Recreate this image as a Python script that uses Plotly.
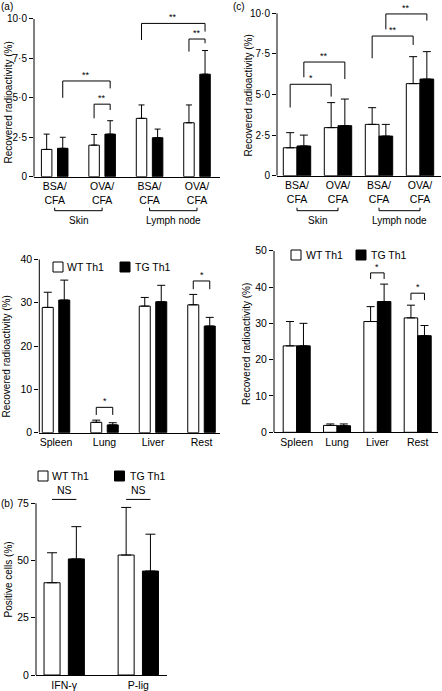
import plotly.graph_objects as go

W, H = 442, 691
FONT = "Liberation Sans, Arial, Helvetica, sans-serif"

# ---------------- data ----------------
# Panel (a)
a_labels = ["BSA/<br>CFA", "OVA/<br>CFA", "BSA/<br>CFA", "OVA/<br>CFA"]
a_wt = [1.73, 2.0, 3.7, 3.42]
a_wt_sd = [0.97, 0.68, 0.85, 1.13]
a_tg = [1.8, 2.7, 2.47, 6.5]
a_tg_sd = [0.7, 0.85, 0.55, 1.5]
# (left group, left series, right group, right series, top, left end, right end, label)
a_sig = [(0, 1, 1, 1, 6.07, 5.0, 5.6, "**"),
         (1, 0, 1, 1, 4.6, 3.7, 4.23, "**"),
         (2, 0, 3, 1, 9.72, 8.67, 9.2, "**"),
         (3, 0, 3, 1, 8.73, 7.93, 8.46, "**")]
a_ticks = [0, 2.5, 5, 7.5, 10]
a_ticktext = ["0", "2·5", "5·0", "7·5", "10·0"]

# Panel (c)
c_labels = ["BSA/<br>CFA", "OVA/<br>CFA", "BSA/<br>CFA", "OVA/<br>CFA"]
c_wt = [1.72, 2.96, 3.16, 5.67]
c_wt_sd = [0.93, 1.54, 1.03, 1.66]
c_tg = [1.83, 3.08, 2.44, 5.95]
c_tg_sd = [0.67, 1.64, 0.72, 1.69]
c_sig = [(0, 0, 1, 0, 5.63, 4.2, 4.87, "*"),
         (0, 1, 1, 1, 7.0, 6.06, 5.95, "**"),
         (2, 0, 3, 0, 8.6, 7.23, 8.05, "**"),
         (2, 1, 3, 1, 9.96, 9.01, 9.55, "**")]
c_ticks = [0, 2.5, 5, 7.5, 10]
c_ticktext = ["0", "2·5", "5·0", "7·5", "10·0"]

site_labels = ["Skin", "Lymph node"]
site_groups = [(0, 1), (2, 3)]

# Middle left
d_labels = ["Spleen", "Lung", "Liver", "Rest"]
d_wt = [28.9, 2.4, 29.2, 29.5]
d_wt_sd = [3.5, 0.5, 2.0, 2.4]
d_tg = [30.6, 1.8, 30.2, 24.6]
d_tg_sd = [4.6, 0.5, 3.8, 2.0]
d_sig = [(1, 0, 1, 1, 5.85, 4.1, 4.1, "*"),
         (3, 0, 3, 1, 35.0, 33.1, 33.1, "*")]
d_ticks = [0, 10, 20, 30, 40]

# Middle right
e_labels = ["Spleen", "Lung", "Liver", "Rest"]
e_wt = [23.8, 1.9, 30.5, 31.5]
e_wt_sd = [6.7, 0.4, 4.1, 3.5]
e_tg = [23.8, 1.8, 36.0, 26.6]
e_tg_sd = [6.2, 0.5, 4.8, 2.8]
e_sig = [(2, 0, 2, 1, 43.9, 42.2, 42.2, "*"),
         (3, 0, 3, 1, 38.3, 36.4, 36.4, "*")]
e_ticks = [0, 10, 20, 30, 40, 50]

# Panel (b)
b_labels = ["IFN-γ", "P-lig"]
b_wt = [40.3, 52.4]
b_wt_sd = [13.1, 20.8]
b_tg = [50.7, 45.4]
b_tg_sd = [14.1, 16.1]
b_sig = [(0, 0, 0, 1, 76.7, 76.7, 76.7, "NS"),
         (1, 0, 1, 1, 76.7, 76.7, 76.7, "NS")]
b_ticks = [0, 25, 50, 75]

series_names = ["WT Th1", "TG Th1"]
series_fill = ["white", "black"]


# ---------------- helpers (pixel layout -> paper) ----------------
def px_x(px):
    return px / W


def px_y(py):
    return 1 - py / H


fig = go.Figure()
shapes = []
annotations = []


def add_panel(idx, labels, wt, wt_sd, tg, tg_sd, sig, tickvals, ticktext,
              xl, xr, c0, cl, y0px, ytpx, ytval, rtop, bw, gap, capw,
              tickfont, catfont, sigfont):
    sx = "" if idx == 1 else str(idx)
    xa, ya = "x" + sx, "y" + sx
    n = len(labels)
    spacing = (cl - c0) / (n - 1)
    xrange = [(xl - c0) / spacing, (xr - c0) / spacing]
    ppu = (y0px - ytpx) / ytval
    top_px = y0px - rtop * ppu
    offsets = [-(bw + gap / 2), gap / 2]
    xs = list(range(n))
    for s, (vals, sd) in enumerate([(wt, wt_sd), (tg, tg_sd)]):
        fig.add_trace(go.Bar(
            x=xs, y=vals, width=bw, offset=offsets[s],
            name=series_names[s], showlegend=False,
            marker=dict(color=series_fill[s], line=dict(color="black", width=1)),
            error_y=dict(type="data", symmetric=False, array=sd,
                         arrayminus=[0] * n, color="black",
                         thickness=1, width=capw),
            xaxis=xa, yaxis=ya, hoverinfo="skip"))
    fig.layout["xaxis" + sx] = dict(
        domain=[px_x(xl), px_x(xr)], range=xrange, anchor=ya,
        showline=True, linecolor="black", linewidth=1, ticks="",
        tickvals=xs, ticktext=labels, showgrid=False, zeroline=False,
        tickfont=dict(size=catfont, color="black", family=FONT))
    fig.layout["yaxis" + sx] = dict(
        domain=[px_y(y0px), px_y(top_px)], range=[0, rtop], anchor=xa,
        showline=False, ticks="outside", ticklen=4, tickwidth=1,
        tickcolor="black", tickvals=tickvals,
        ticktext=ticktext if ticktext else [str(t) for t in tickvals],
        showgrid=False, zeroline=False,
        tickfont=dict(size=tickfont, color="black", family=FONT))
    # y axis line up to top tick
    shapes.append(dict(type="line", xref=xa + " domain", yref=ya,
                       x0=0, x1=0, y0=0, y1=max(tickvals),
                       line=dict(color="black", width=1)))
    # significance brackets
    for (g1, s1, g2, s2, t, e1, e2, lab) in sig:
        x1 = g1 + offsets[s1] + bw / 2
        x2 = g2 + offsets[s2] + bw / 2
        shapes.append(dict(type="path", xref=xa, yref=ya,
                           path=f"M {x1},{e1} L {x1},{t} L {x2},{t} L {x2},{e2}",
                           line=dict(color="black", width=1)))
        annotations.append(dict(x=(x1 + x2) / 2, y=t, xref=xa, yref=ya,
                                text=lab, showarrow=False, yanchor="bottom",
                                xanchor="center", yshift=-1 if lab != "NS" else 1,
                                font=dict(size=sigfont if lab != "NS" else 10.5,
                                          color="black", family=FONT)))
    return xa


def text(px, py, s, size=10, angle=0, xanchor="center"):
    annotations.append(dict(x=px_x(px), y=px_y(py), xref="paper", yref="paper",
                            text=s, showarrow=False, textangle=angle,
                            xanchor=xanchor, yanchor="middle",
                            font=dict(size=size, color="black", family=FONT)))


def legend(py, xs_sq, xs_txt, size=10, sq=10):
    for s in range(2):
        shapes.append(dict(type="rect", xref="paper", yref="paper",
                           x0=px_x(xs_sq[s]), x1=px_x(xs_sq[s] + sq),
                           y0=px_y(py + sq / 2), y1=px_y(py - sq / 2),
                           fillcolor=series_fill[s],
                           line=dict(color="black", width=1)))
        text(xs_txt[s], py, series_names[s], size=size, xanchor="left")


def site_brackets(xa, ypx, uppx, lab_py):
    for (g1, g2), lab in zip(site_groups, site_labels):
        shapes.append(dict(type="path", xref=xa, yref="paper",
                           path=f"M {g1},{px_y(uppx)} L {g1},{px_y(ypx)} "
                                f"L {g2},{px_y(ypx)} L {g2},{px_y(uppx)}",
                           line=dict(color="black", width=1)))
        annotations.append(dict(x=(g1 + g2) / 2, y=px_y(lab_py), xref=xa,
                                yref="paper", text=lab, showarrow=False,
                                yanchor="middle", xanchor="center",
                                font=dict(size=10, color="black", family=FONT)))


# Panel (a)
xa_a = add_panel(1, a_labels, a_wt, a_wt_sd, a_tg, a_tg_sd, a_sig, a_ticks, a_ticktext,
                 xl=34, xr=220, c0=54.7, cl=197, y0px=176.7, ytpx=19, ytval=10,
                 rtop=10.3, bw=0.221, gap=0.118, capw=3,
                 tickfont=10, catfont=10.5, sigfont=9)
# Panel (c)
xa_c = add_panel(2, c_labels, c_wt, c_wt_sd, c_tg, c_tg_sd, c_sig, c_ticks, c_ticktext,
                 xl=277, xr=441, c0=297, cl=420, y0px=175.7, ytpx=13.3, ytval=10,
                 rtop=10.3, bw=0.334, gap=0.0, capw=4,
                 tickfont=10, catfont=10.5, sigfont=9)
# Middle left
add_panel(3, d_labels, d_wt, d_wt_sd, d_tg, d_tg_sd, d_sig, d_ticks, None,
          xl=39.3, xr=220, c0=56, cl=201.5, y0px=432.7, ytpx=259.3, ytval=40,
          rtop=40, bw=0.227, gap=0.113, capw=4,
          tickfont=10.5, catfont=10.5, sigfont=9)
# Middle right
add_panel(4, e_labels, e_wt, e_wt_sd, e_tg, e_tg_sd, e_sig, e_ticks, None,
          xl=274, xr=438, c0=296.7, cl=417.7, y0px=432.3, ytpx=250.7, ytval=50,
          rtop=50, bw=0.335, gap=0.0, capw=4,
          tickfont=10.5, catfont=10.5, sigfont=9)
# Panel (b)
add_panel(5, b_labels, b_wt, b_wt_sd, b_tg, b_tg_sd, b_sig, b_ticks, None,
          xl=36, xr=167, c0=64.2, cl=138.3, y0px=675, ytpx=503.3, ytval=75,
          rtop=78, bw=0.216, gap=0.112, capw=5,
          tickfont=10.5, catfont=10.5, sigfont=9)

site_brackets(xa_a, 210.7, 207.7, 220.5)
site_brackets(xa_c, 210.7, 207.7, 220.5)

legend(267, [53, 120], [65, 133], size=10.5)
legend(255, [291, 356], [304, 369], size=10.5)
legend(476, [38, 114.5], [50, 128], size=10.5)

# axis titles
text(7.5, 103, "Recovered radioactivity (%)", size=10, angle=-90)
text(248, 95.5, "Recovered radioactivity (%)", size=10, angle=-90)
text(6.5, 357, "Recovered radioactivity (%)", size=10, angle=-90)
text(247, 344, "Recovered radioactivity (%)", size=10, angle=-90)
text(7.5, 580, "Positive cells (%)", size=10, angle=-90)

# panel labels
text(7, 6, "(a)", size=10)
text(238.5, 6, "(c)", size=10)
text(7.5, 503, "(b)", size=10)

fig.update_layout(
    width=W, height=H, autosize=False,
    margin=dict(l=0, r=0, t=0, b=0, pad=0),
    template="none", barmode="overlay",
    paper_bgcolor="white", plot_bgcolor="rgba(0,0,0,0)",
    font=dict(family=FONT, color="black", size=10),
    showlegend=False, shapes=shapes, annotations=annotations)

fig.write_html("out.html", config={"displayModeBar": False},
               post_script="document.body.style.margin='0';")
